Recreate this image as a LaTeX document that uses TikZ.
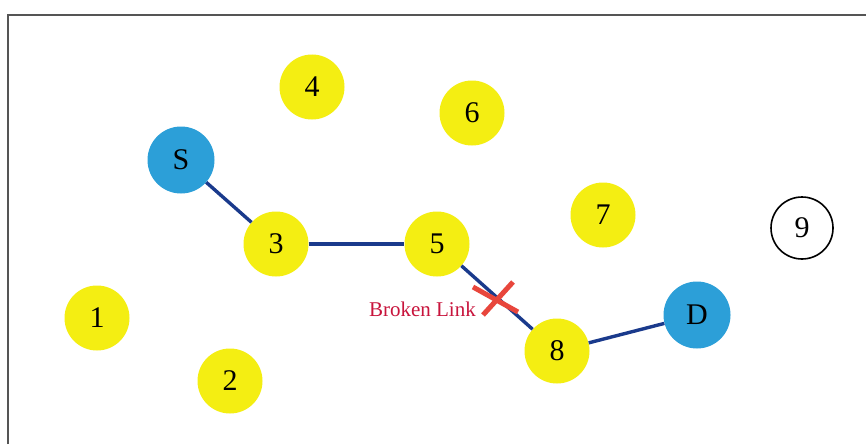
\documentclass[tikz,border=0pt]{standalone}
\usepackage{fontspec}
\setmainfont{Liberation Serif}
\usetikzlibrary{calc}
\definecolor{nodeyellow}{HTML}{F4EE12}
\definecolor{nodeblue}{HTML}{2C9FD8}
\definecolor{linkblue}{HTML}{1A3A8C}
\definecolor{crossred}{HTML}{E8463C}
\definecolor{labelred}{HTML}{C8143C}
\definecolor{framegray}{HTML}{555555}
\begin{document}
\begin{tikzpicture}[x=1pt,y=-1pt,
  ynode/.style={circle,fill=nodeyellow,minimum size=65pt,inner sep=0pt,font=\fontsize{30}{30}\selectfont},
  bnode/.style={circle,fill=nodeblue,minimum size=67pt,inner sep=0pt,font=\fontsize{30}{30}\selectfont},
  wnode/.style={circle,draw=black,line width=1.6pt,fill=white,minimum size=62pt,inner sep=0pt,font=\fontsize{30}{30}\selectfont},
  link/.style={draw=linkblue,line width=3.4pt},
  crossline/.style={draw=crossred,line width=5pt}]
\useasboundingbox (0,0) rectangle (866,444);
\fill[white] (0,0) rectangle (866,444);
\draw[framegray,line width=1.4pt] (8,444) -- (8,15) -- (866,15);
% nodes
\node[bnode] (S) at (181,160) {S};
\node[ynode] (n3) at (276,244) {3};
\node[ynode] (n5) at (437,244) {5};
\node[ynode] (n4) at (312,87) {4};
\node[ynode] (n6) at (472,113) {6};
\node[ynode] (n7) at (603,215) {7};
\node[ynode] (n1) at (97,318) {1};
\node[ynode] (n2) at (230,381) {2};
\node[ynode] (n8) at (557,351) {8};
\node[bnode] (D) at (697,315) {D};
\node[wnode] (n9) at (802,228) {9};
% links
\draw[link] (S) -- (n3);
\draw[link] (n3) -- (n5);
\draw[link] (n5) -- (n8);
\draw[link] (n8) -- (D);
% broken link mark
\coordinate (bx) at (497,298);
\draw[crossline] ($(bx)+(-24,-11)$) -- ($(bx)+(21,14)$);
\draw[crossline] ($(bx)+(-14,17)$) -- ($(bx)+(16,-16)$);
\node[anchor=east,text=labelred,font=\fontsize{21}{21}\selectfont,inner sep=0pt] (bl) at (476,309) {Broken Link};
\end{tikzpicture}
\end{document}
